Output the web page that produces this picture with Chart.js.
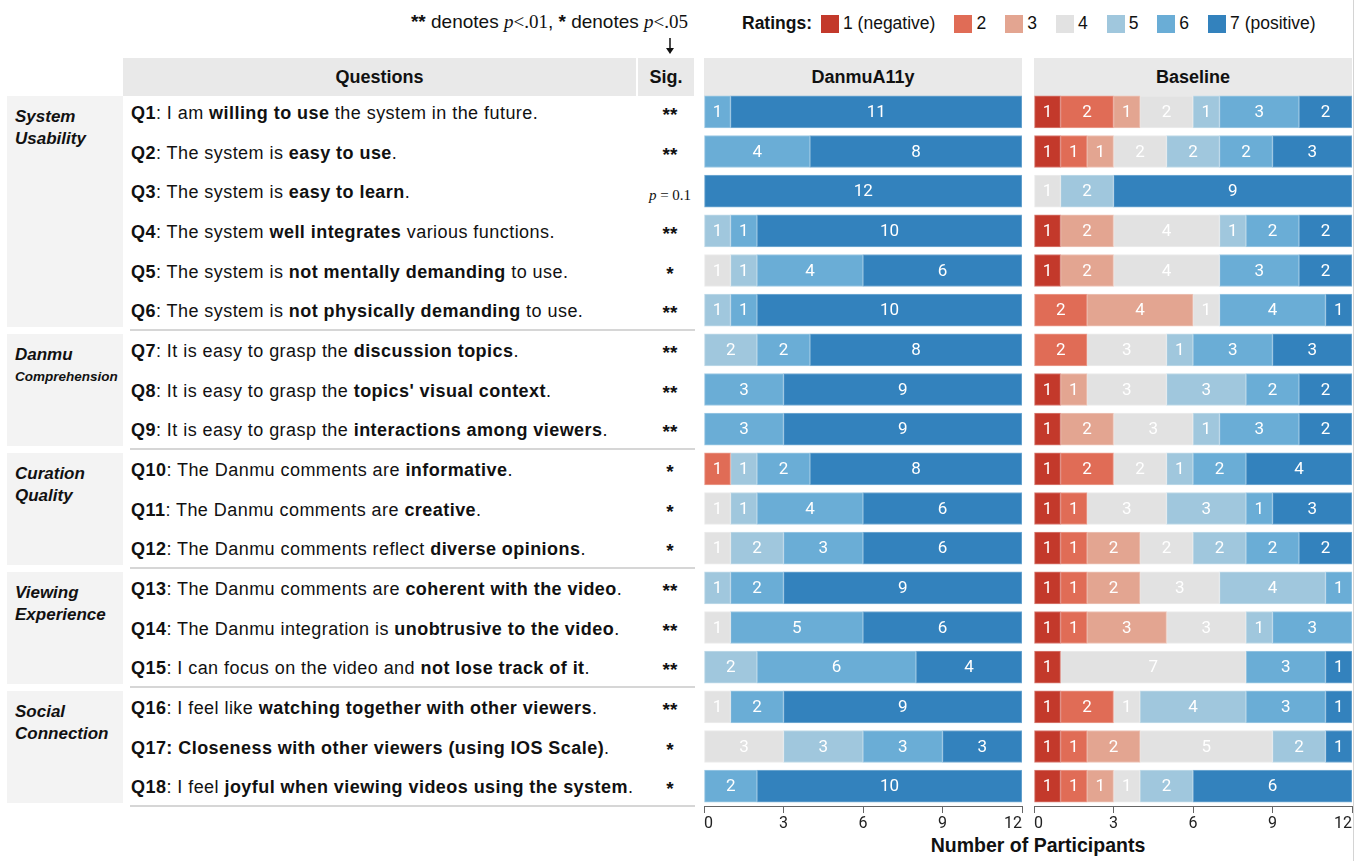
<!DOCTYPE html>
<html><head><meta charset="utf-8">
<script src="https://cdn.jsdelivr.net/npm/chart.js@4.4.1/dist/chart.umd.min.js"></script>
<style>
html,body{margin:0;padding:0;background:#fff;width:1359px;height:861px;overflow:hidden;font-family:"Liberation Sans",Arial,sans-serif;color:#111;}
.abs{position:absolute;}
.hdr{position:absolute;background:#e9e9e9;font-weight:bold;font-size:18px;display:flex;align-items:center;justify-content:center;color:#111;}
.q{position:absolute;left:131px;font-size:18px;letter-spacing:0.45px;line-height:20px;white-space:nowrap;color:#111;}
.sig{position:absolute;left:642px;width:56px;text-align:center;font-size:19px;line-height:20px;font-weight:bold;}
.sig .pv{font-family:"Liberation Serif","DejaVu Serif",serif;font-weight:normal;font-size:15px;}
.grp{position:absolute;left:7px;width:116px;background:#f3f3f3;}
.grp .t{position:absolute;left:8px;font-weight:bold;font-style:italic;font-size:17px;line-height:22px;white-space:nowrap;}
.sep{position:absolute;left:130px;width:565px;height:2px;background:#d6d6d6;}
.m{font-family:"Liberation Serif","DejaVu Serif",serif;font-size:19px;}
#legend{position:absolute;left:742px;top:13px;display:flex;align-items:center;font-size:17.5px;white-space:nowrap;}
#legend .sw{width:18px;height:18px;margin-right:4px;}
#legend .lb{margin-right:19px;}
canvas{position:absolute;}
</style></head><body>
<div id="root"></div>
<canvas id="cA"></canvas>
<canvas id="cB"></canvas>
<script>
// ---------- data ----------
const categories = ['Q1','Q2','Q3','Q4','Q5','Q6','Q7','Q8','Q9','Q10','Q11','Q12','Q13','Q14','Q15','Q16','Q17','Q18'];
const ratingLabels = ['1 (negative)','2','3','4','5','6','7 (positive)'];
const ratingColors = ['#c3392b','#e06c56','#e3a591','#e2e2e2','#a0c7dd','#6aadd6','#3382bd'];
const panelTitles = ['DanmuA11y','Baseline'];
const xTicks = [0,3,6,9,12];
const questionTexts = [
  '<b>Q1</b>: I am <b>willing to use</b> the system in the future.',
  '<b>Q2</b>: The system is <b>easy to use</b>.',
  '<b>Q3</b>: The system is <b>easy to learn</b>.',
  '<b>Q4</b>: The system <b>well integrates</b> various functions.',
  '<b>Q5</b>: The system is <b>not mentally demanding</b> to use.',
  '<b>Q6</b>: The system is <b>not physically demanding</b> to use.',
  '<b>Q7</b>: It is easy to grasp the <b>discussion topics</b>.',
  '<b>Q8</b>: It is easy to grasp the <b>topics\' visual context</b>.',
  '<b>Q9</b>: It is easy to grasp the <b>interactions among viewers</b>.',
  '<b>Q10</b>: The Danmu comments are <b>informative</b>.',
  '<b>Q11</b>: The Danmu comments are <b>creative</b>.',
  '<b>Q12</b>: The Danmu comments reflect <b>diverse opinions</b>.',
  '<b>Q13</b>: The Danmu comments are <b>coherent with the video</b>.',
  '<b>Q14</b>: The Danmu integration is <b>unobtrusive to the video</b>.',
  '<b>Q15</b>: I can focus on the video and <b>not lose track of it</b>.',
  '<b>Q16</b>: I feel like <b>watching together with other viewers</b>.',
  '<b>Q17: Closeness with other viewers (using IOS Scale)</b>.',
  '<b>Q18</b>: I feel <b>joyful when viewing videos using the system</b>.'
];
const sigMarks = ['**','**','p = 0.1','**','*','**','**','**','**','*','*','*','**','**','**','**','*','*'];
const groupNames = [['System','Usability'],['Danmu','Comprehension'],['Curation','Quality'],['Viewing','Experience'],['Social','Connection']];
const groupSizes = [6,3,3,3,3];
// counts per question: [r1, r2, r3, r4, r5, r6, r7]
const danmuA11yCounts = [
  [0,0,0,0,0,1,11],[0,0,0,0,0,4,8],[0,0,0,0,0,0,12],[0,0,0,0,1,1,10],[0,0,0,1,1,4,6],[0,0,0,0,1,1,10],
  [0,0,0,0,2,2,8],[0,0,0,0,0,3,9],[0,0,0,0,0,3,9],
  [0,1,0,0,1,2,8],[0,0,0,1,1,4,6],[0,0,0,1,2,3,6],
  [0,0,0,0,1,2,9],[0,0,0,1,0,5,6],[0,0,0,0,2,6,4],
  [0,0,0,1,0,2,9],[0,0,0,3,3,3,3],[0,0,0,0,0,2,10]
];
const baselineCounts = [
  [1,2,1,2,1,3,2],[1,1,1,2,2,2,3],[0,0,0,1,2,0,9],[1,0,2,4,1,2,2],[1,0,2,4,0,3,2],[0,2,4,1,0,4,1],
  [0,2,0,3,1,3,3],[1,0,1,3,3,2,2],[1,0,2,3,1,3,2],
  [1,2,0,2,1,2,4],[1,1,0,3,3,1,3],[1,1,2,2,2,2,2],
  [1,1,2,3,4,1,0],[1,1,3,3,1,3,0],[1,0,0,7,0,3,1],
  [1,2,0,1,4,3,1],[1,1,2,5,2,0,1],[1,1,1,1,2,0,6]
];

// ---------- geometry ----------
const PLOT_TOP = 92, PLOT_BOTTOM = 806, PAD = 15, AXIS_H = 30;
const panelX = [[704,1022],[1034,1352]];

const barLabelPlugin = {
  id: 'barLabels',
  afterDatasetsDraw(chart) {
    const ctx = chart.ctx;
    ctx.save();
    ctx.font = '400 17px Roboto, "Liberation Sans", sans-serif';
    ctx.fillStyle = '#ffffff';
    ctx.textAlign = 'center';
    ctx.textBaseline = 'middle';
    chart.data.datasets.forEach((ds, di) => {
      const meta = chart.getDatasetMeta(di);
      meta.data.forEach((el, i) => {
        const v = ds.data[i];
        if (!v) return;
        const p = el.getProps(['x', 'y', 'base'], true);
        ctx.fillText(String(v), (p.x + p.base) / 2, p.y + 1);
      });
    });
    ctx.restore();
  }
};

function lighten(hex, a) {
  const n = parseInt(hex.slice(1), 16);
  const r = (n >> 16) & 255, g = (n >> 8) & 255, b = n & 255;
  const f = c => Math.round(c + (255 - c) * a);
  return 'rgb(' + f(r) + ',' + f(g) + ',' + f(b) + ')';
}

function makeChart(id, counts, px) {
  const cv = document.getElementById(id);
  const w = (px[1] - px[0]) + 2 * PAD;
  const h = (PLOT_BOTTOM - PLOT_TOP) + AXIS_H;
  cv.width = w; cv.height = h;
  cv.style.width = w + 'px'; cv.style.height = h + 'px';
  cv.style.left = (px[0] - PAD) + 'px';
  cv.style.top = PLOT_TOP + 'px';
  const datasets = ratingLabels.map((lab, r) => ({
    label: lab,
    data: counts.map(row => row[r]),
    backgroundColor: ratingColors[r],
    borderColor: lighten(ratingColors[r], 0.35),
    borderWidth: 1,
    borderSkipped: false,
    barThickness: 32
  }));
  return new Chart(cv, {
    type: 'bar',
    data: { labels: categories, datasets },
    options: {
      indexAxis: 'y',
      responsive: false,
      animation: false,
      devicePixelRatio: 1,
      layout: { padding: { left: PAD, right: PAD, top: 0, bottom: 0 } },
      plugins: { legend: { display: false }, tooltip: { enabled: false } },
      scales: {
        x: {
          stacked: true, min: 0, max: 12,
          afterBuildTicks: s => { s.ticks = xTicks.map(v => ({ value: v })); },
          afterFit: s => { s.height = AXIS_H; },
          ticks: { color: '#222', font: { family: 'Roboto', size: 16 }, padding: 1, align: 'inner', maxRotation: 0 },
          grid: { display: true, drawOnChartArea: false, drawTicks: true, tickLength: 7, color: '#666', lineWidth: 1 },
          border: { display: true, color: '#666', width: 1 }
        },
        y: { stacked: true, display: false }
      }
    },
    plugins: [barLabelPlugin]
  });
}

const chartA = makeChart('cA', danmuA11yCounts, panelX[0]);
const chartB = makeChart('cB', baselineCounts, panelX[1]);

// ---------- html text built around the chart's scale ----------
const root = document.getElementById('root');
function add(html) { root.insertAdjacentHTML('beforeend', html); }
const yS = chartA.scales.y;
const cy = i => PLOT_TOP + yS.getPixelForValue(i);
const band = (yS.getPixelForValue(1) - yS.getPixelForValue(0));

// significance note & arrow
add('<div class="abs" style="right:671px;top:11px;font-size:19px;white-space:nowrap;"><b>**</b> denotes <span class="m"><i>p</i>&lt;.01</span>, <b>*</b> denotes <span class="m"><i>p</i>&lt;.05</span></div>');
add('<svg class="abs" style="left:664px;top:38px" width="12" height="18"><line x1="6" y1="0" x2="6" y2="11" stroke="#111" stroke-width="1.5"/><polygon points="2,10 10,10 6,16" fill="#111"/></svg>');

// legend
let lg = '<div id="legend"><b style="margin-right:9px">Ratings:</b>';
ratingLabels.forEach((l, r) => { lg += '<span class="sw" style="background:' + ratingColors[r] + '"></span><span class="lb">' + l + '</span>'; });
add(lg + '</div>');

// headers
add('<div class="hdr" style="left:123px;top:58px;width:513px;height:38px;">Questions</div>');
add('<div class="hdr" style="left:638px;top:58px;width:56px;height:38px;">Sig.</div>');
add('<div class="hdr" style="left:' + panelX[0][0] + 'px;top:58px;width:' + (panelX[0][1] - panelX[0][0]) + 'px;height:38px;">' + panelTitles[0] + '</div>');
add('<div class="hdr" style="left:' + panelX[1][0] + 'px;top:58px;width:' + (panelX[1][1] - panelX[1][0]) + 'px;height:38px;">' + panelTitles[1] + '</div>');

// groups
let start = 0;
groupSizes.forEach((n, g) => {
  const top = cy(start) - band / 2 + 4;
  const bot = cy(start + n - 1) + band / 2 - 3;
  const lines = groupNames[g];
  const firstTop = cy(start) + 5 - 11 - top;
  let inner = '<div class="t" style="top:' + firstTop + 'px">' + lines[0] + '</div>';
  const small = lines[1].length > 11;
  inner += '<div class="t" style="top:' + (firstTop + 22) + 'px;' + (small ? 'font-size:13.5px;' : '') + '">' + lines[1] + '</div>';
  add('<div class="grp" style="top:' + top + 'px;height:' + (bot - top) + 'px">' + inner + '</div>');
  const sepY = cy(start + n - 1) + band / 2 - 1;
  add('<div class="sep" style="top:' + sepY + 'px"></div>');
  start += n;
});

// questions & significance
categories.forEach((c, i) => {
  const t = cy(i) - 9;
  add('<div class="q" style="top:' + t + 'px">' + questionTexts[i] + '</div>');
  const s = sigMarks[i];
  const sHtml = s.startsWith('p') ? '<span class="pv"><i>p</i> = 0.1</span>' : s;
  add('<div class="sig" style="top:' + (t + 2) + 'px">' + sHtml + '</div>');
});

// axis title
add('<div class="abs" style="left:' + (panelX[0][0] + 10) + 'px;width:' + (panelX[1][1] - panelX[0][0]) + 'px;top:834px;text-align:center;font-weight:bold;font-size:19.5px;">Number of Participants</div>');
// right border line
add('<div class="abs" style="left:1353px;top:0;width:1px;height:861px;background:#d4d4d4"></div>');
</script>
</body></html>
